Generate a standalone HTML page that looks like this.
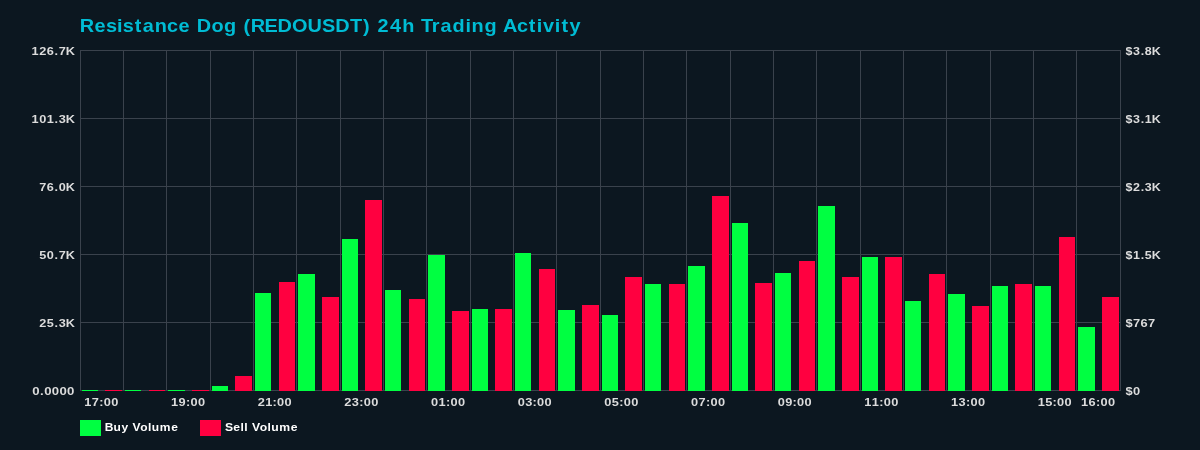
<!DOCTYPE html>
<html><head><meta charset="utf-8"><title>Resistance Dog (REDOUSDT) 24h Trading Activity</title>
<style>html,body{margin:0;padding:0;background:#0c1720;overflow:hidden}svg{display:block}text{font-family:"Liberation Sans",sans-serif;font-weight:bold}</style></head><body>
<svg width="1200" height="450" viewBox="0 0 1200 450">
<rect x="0" y="0" width="1200" height="450" fill="#0c1720"/>
<g shape-rendering="crispEdges" fill="#3a424c">
<rect x="80" y="50" width="1" height="341"/>
<rect x="123" y="50" width="1" height="341"/>
<rect x="166" y="50" width="1" height="341"/>
<rect x="210" y="50" width="1" height="341"/>
<rect x="253" y="50" width="1" height="341"/>
<rect x="296" y="50" width="1" height="341"/>
<rect x="340" y="50" width="1" height="341"/>
<rect x="383" y="50" width="1" height="341"/>
<rect x="426" y="50" width="1" height="341"/>
<rect x="470" y="50" width="1" height="341"/>
<rect x="513" y="50" width="1" height="341"/>
<rect x="556" y="50" width="1" height="341"/>
<rect x="600" y="50" width="1" height="341"/>
<rect x="643" y="50" width="1" height="341"/>
<rect x="686" y="50" width="1" height="341"/>
<rect x="730" y="50" width="1" height="341"/>
<rect x="773" y="50" width="1" height="341"/>
<rect x="816" y="50" width="1" height="341"/>
<rect x="860" y="50" width="1" height="341"/>
<rect x="903" y="50" width="1" height="341"/>
<rect x="946" y="50" width="1" height="341"/>
<rect x="990" y="50" width="1" height="341"/>
<rect x="1033" y="50" width="1" height="341"/>
<rect x="1076" y="50" width="1" height="341"/>
<rect x="1120" y="50" width="1" height="341"/>
<rect x="80" y="50" width="1041" height="1"/>
<rect x="80" y="118" width="1041" height="1"/>
<rect x="80" y="186" width="1041" height="1"/>
<rect x="80" y="254" width="1041" height="1"/>
<rect x="80" y="322" width="1041" height="1"/>
<rect x="80" y="390" width="1041" height="1"/>
</g>
<g shape-rendering="crispEdges" fill="#00ff41"><rect x="82" y="390" width="16" height="1"/><rect x="125" y="390" width="16" height="1"/><rect x="168" y="390" width="17" height="1"/><rect x="212" y="386" width="16" height="5"/><rect x="255" y="293" width="16" height="98"/><rect x="298" y="274" width="17" height="117"/><rect x="342" y="239" width="16" height="152"/><rect x="385" y="290" width="16" height="101"/><rect x="428" y="255" width="17" height="136"/><rect x="472" y="309" width="16" height="82"/><rect x="515" y="253" width="16" height="138"/><rect x="558" y="310" width="17" height="81"/><rect x="602" y="315" width="16" height="76"/><rect x="645" y="284" width="16" height="107"/><rect x="688" y="266" width="17" height="125"/><rect x="732" y="223" width="16" height="168"/><rect x="775" y="273" width="16" height="118"/><rect x="818" y="206" width="17" height="185"/><rect x="862" y="257" width="16" height="134"/><rect x="905" y="301" width="16" height="90"/><rect x="948" y="294" width="17" height="97"/><rect x="992" y="286" width="16" height="105"/><rect x="1035" y="286" width="16" height="105"/><rect x="1078" y="327" width="17" height="64"/></g>
<g shape-rendering="crispEdges" fill="#ff0040"><rect x="105" y="390" width="17" height="1"/><rect x="149" y="390" width="16" height="1"/><rect x="192" y="390" width="17" height="1"/><rect x="235" y="376" width="17" height="15"/><rect x="279" y="282" width="16" height="109"/><rect x="322" y="297" width="17" height="94"/><rect x="365" y="200" width="17" height="191"/><rect x="409" y="299" width="16" height="92"/><rect x="452" y="311" width="17" height="80"/><rect x="495" y="309" width="17" height="82"/><rect x="539" y="269" width="16" height="122"/><rect x="582" y="305" width="17" height="86"/><rect x="625" y="277" width="17" height="114"/><rect x="669" y="284" width="16" height="107"/><rect x="712" y="196" width="17" height="195"/><rect x="755" y="283" width="17" height="108"/><rect x="799" y="261" width="16" height="130"/><rect x="842" y="277" width="17" height="114"/><rect x="885" y="257" width="17" height="134"/><rect x="929" y="274" width="16" height="117"/><rect x="972" y="306" width="17" height="85"/><rect x="1015" y="284" width="17" height="107"/><rect x="1059" y="237" width="16" height="154"/><rect x="1102" y="297" width="17" height="94"/></g>
<rect x="80" y="420" width="21" height="16" fill="#00ff41" shape-rendering="crispEdges"/>
<rect x="200" y="420" width="21" height="16" fill="#ff0040" shape-rendering="crispEdges"/>
<defs><filter id="aa" x="0" y="0" width="1200" height="450" filterUnits="userSpaceOnUse" color-interpolation-filters="sRGB"><feOffset dx="0" dy="0"/></filter></defs><g filter="url(#aa)">
<text transform="translate(105.00 431.00) scale(1.0461 1)" x="-0.15 8.24 15.73 22.59 26.24 33.68 41.01 44.64 52.26 63.22" y="0" font-size="11.50" fill="#ffffff">Buy Volume</text>
<text transform="translate(225.00 431.00) scale(1.0600 1)" x="-0.10 7.79 14.70 18.25 21.84 25.42 32.76 40.02 43.57 51.08 61.92" y="0" font-size="11.50" fill="#ffffff">Sell Volume</text>
<text transform="translate(80.00 32.00) scale(1.0530 1)" x="-0.25 13.70 24.58 35.24 40.62 51.90 59.65 70.98 82.65 93.51 104.92 110.79 124.81 136.80 149.05 155.39 162.21 175.15 187.56 201.41 216.13 229.74 242.48 256.45 268.81 276.23 282.51 294.41 305.92 318.14 323.79 334.06 342.46 353.82 366.03 371.89 384.09 396.34 401.72 414.97 426.23 433.78 439.64 450.78 457.26 464.82" y="0" font-size="18.90" fill="#00bcd4">Resistance Dog (REDOUSDT) 24h Trading Activity</text>
<text transform="translate(31.28 55.00) scale(1.0996 1)" x="0.25 7.21 14.17 21.18 24.94 31.33" y="0" font-size="11.60" fill="#dcdcdc">126.7K</text>
<text transform="translate(31.28 123.00) scale(1.0996 1)" x="0.25 7.21 14.17 21.18 24.94 31.33" y="0" font-size="11.60" fill="#dcdcdc">101.3K</text>
<text transform="translate(38.93 191.00) scale(1.0940 1)" x="0.27 7.27 14.29 18.08 24.51" y="0" font-size="11.60" fill="#dcdcdc">76.0K</text>
<text transform="translate(38.93 259.00) scale(1.0940 1)" x="0.27 7.27 14.29 18.08 24.51" y="0" font-size="11.60" fill="#dcdcdc">50.7K</text>
<text transform="translate(38.93 327.00) scale(1.0940 1)" x="0.27 7.27 14.29 18.08 24.51" y="0" font-size="11.60" fill="#dcdcdc">25.3K</text>
<text transform="translate(32.15 395.00) scale(1.1359 1)" x="0.14 6.97 10.56 17.30 24.03 30.77" y="0" font-size="11.60" fill="#dcdcdc">0.0000</text>
<text transform="translate(1125.30 55.00) scale(1.0776 1)" x="0.27 7.27 14.29 18.08 24.51" y="0" font-size="11.60" fill="#dcdcdc">$3.8K</text>
<text transform="translate(1125.30 123.00) scale(1.0776 1)" x="0.27 7.27 14.29 18.08 24.51" y="0" font-size="11.60" fill="#dcdcdc">$3.1K</text>
<text transform="translate(1125.30 191.00) scale(1.0776 1)" x="0.27 7.27 14.29 18.08 24.51" y="0" font-size="11.60" fill="#dcdcdc">$2.3K</text>
<text transform="translate(1125.30 259.00) scale(1.0776 1)" x="0.27 7.27 14.29 18.08 24.51" y="0" font-size="11.60" fill="#dcdcdc">$1.5K</text>
<text transform="translate(1125.30 327.00) scale(1.1093 1)" x="0.17 6.97 13.76 20.56" y="0" font-size="11.60" fill="#dcdcdc">$767</text>
<text transform="translate(1125.30 395.00) scale(1.1093 1)" x="0.17 6.97" y="0" font-size="11.60" fill="#dcdcdc">$0</text>
<text transform="translate(84.12 406.00) scale(1.1031 1)" x="0.19 7.02 13.70 17.79 24.62" y="0" font-size="11.60" fill="#dcdcdc">17:00</text>
<text transform="translate(170.79 406.00) scale(1.1031 1)" x="0.19 7.02 13.70 17.79 24.62" y="0" font-size="11.60" fill="#dcdcdc">19:00</text>
<text transform="translate(257.45 406.00) scale(1.1031 1)" x="0.19 7.02 13.70 17.79 24.62" y="0" font-size="11.60" fill="#dcdcdc">21:00</text>
<text transform="translate(344.12 406.00) scale(1.1031 1)" x="0.19 7.02 13.70 17.79 24.62" y="0" font-size="11.60" fill="#dcdcdc">23:00</text>
<text transform="translate(430.79 406.00) scale(1.1031 1)" x="0.19 7.02 13.70 17.79 24.62" y="0" font-size="11.60" fill="#dcdcdc">01:00</text>
<text transform="translate(517.45 406.00) scale(1.1031 1)" x="0.19 7.02 13.70 17.79 24.62" y="0" font-size="11.60" fill="#dcdcdc">03:00</text>
<text transform="translate(604.12 406.00) scale(1.1031 1)" x="0.19 7.02 13.70 17.79 24.62" y="0" font-size="11.60" fill="#dcdcdc">05:00</text>
<text transform="translate(690.79 406.00) scale(1.1031 1)" x="0.19 7.02 13.70 17.79 24.62" y="0" font-size="11.60" fill="#dcdcdc">07:00</text>
<text transform="translate(777.45 406.00) scale(1.1031 1)" x="0.19 7.02 13.70 17.79 24.62" y="0" font-size="11.60" fill="#dcdcdc">09:00</text>
<text transform="translate(864.12 406.00) scale(1.1031 1)" x="0.19 7.02 13.70 17.79 24.62" y="0" font-size="11.60" fill="#dcdcdc">11:00</text>
<text transform="translate(950.79 406.00) scale(1.1031 1)" x="0.19 7.02 13.70 17.79 24.62" y="0" font-size="11.60" fill="#dcdcdc">13:00</text>
<text transform="translate(1037.45 406.00) scale(1.1031 1)" x="0.19 7.02 13.70 17.79 24.62" y="0" font-size="11.60" fill="#dcdcdc">15:00</text>
<text transform="translate(1080.79 406.00) scale(1.1031 1)" x="0.19 7.02 13.70 17.79 24.62" y="0" font-size="11.60" fill="#dcdcdc">16:00</text>
</g>
</svg></body></html>
